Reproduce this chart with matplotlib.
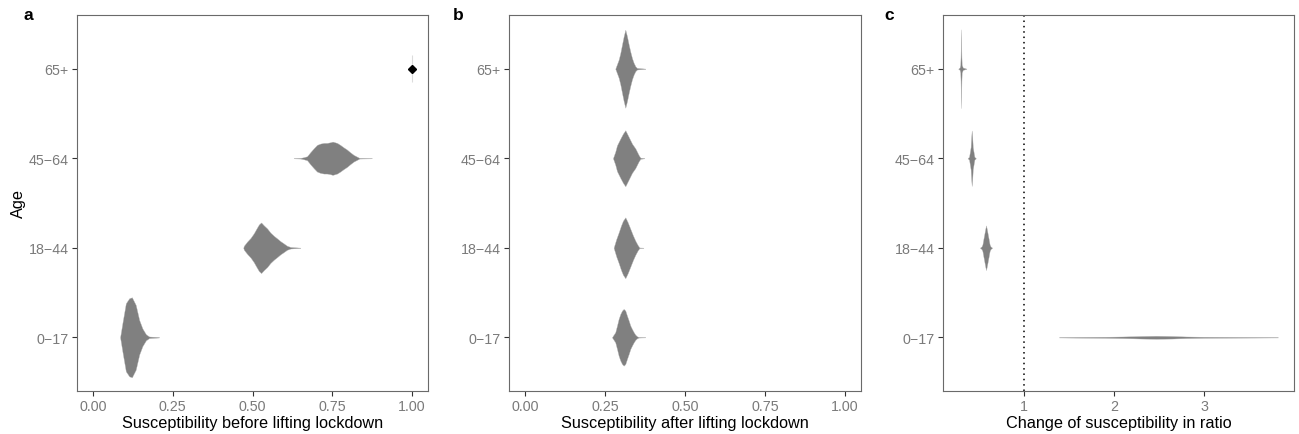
import matplotlib
matplotlib.use("Agg")
import matplotlib.pyplot as plt
import numpy as np

plt.rcParams['font.family'] = ['Liberation Sans', 'DejaVu Sans']

ages = ["0\u221217", "18\u221244", "45\u221264", "65+"]

# ---- Panel a: susceptibility before lifting lockdown (violin outlines)
a_017_x = [0.085, 0.093, 0.103, 0.1135, 0.122, 0.134, 0.145, 0.155, 0.166, 0.176, 0.207]
a_017_d = [0.0, 0.39, 0.85, 0.975, 1.0, 0.81, 0.43, 0.22, 0.075, 0.02, 0.005]
a_1844_x = [0.471, 0.473, 0.483, 0.494, 0.504, 0.5125, 0.52, 0.527, 0.535, 0.546, 0.556,
            0.567, 0.577, 0.5875, 0.598, 0.608, 0.619, 0.65]
a_1844_d = [0.0, 0.08, 0.24, 0.39, 0.57, 0.76, 0.92, 1.0, 0.89, 0.76, 0.6,
            0.47, 0.37, 0.26, 0.17, 0.08, 0.03, 0.005]
a_4564_x = [0.629, 0.65, 0.66, 0.671, 0.681, 0.692, 0.702, 0.7125, 0.723, 0.733, 0.744,
            0.751, 0.765, 0.775, 0.785, 0.796, 0.806, 0.817, 0.827, 0.835, 0.874]
a_4564_d = [0.005, 0.02, 0.06, 0.12, 0.36, 0.6, 0.8, 0.88, 0.92, 0.92, 0.96,
            1.0, 0.92, 0.8, 0.66, 0.52, 0.36, 0.2, 0.1, 0.02, 0.005]
a_65_value = 1.0
a_peaks = [0.447, 0.283, 0.186]

# ---- Panel b: susceptibility after lifting lockdown
b_017_x = [0.2717, 0.2821, 0.2874, 0.2926, 0.2978, 0.3031, 0.3083, 0.3135, 0.3187, 0.324,
           0.3292, 0.3344, 0.3396, 0.3448, 0.35, 0.3553, 0.376]
b_017_d = [0.0, 0.18, 0.41, 0.65, 0.82, 0.94, 1.0, 0.94, 0.76, 0.59,
           0.41, 0.29, 0.18, 0.09, 0.035, 0.01, 0.003]
b_1844_x = [0.2769, 0.2853, 0.2926, 0.30, 0.3062, 0.3135, 0.3208, 0.3292, 0.3375, 0.3448,
            0.352, 0.3574, 0.37]
b_1844_d = [0.0, 0.29, 0.5, 0.73, 0.89, 1.0, 0.84, 0.62, 0.4, 0.23, 0.09, 0.01, 0.003]
b_4564_x = [0.2748, 0.282, 0.2874, 0.2978, 0.3062, 0.3135, 0.324, 0.3344, 0.3448, 0.3553,
            0.3605, 0.373]
b_4564_d = [0.0, 0.23, 0.46, 0.7, 0.88, 1.0, 0.76, 0.52, 0.35, 0.11, 0.02, 0.003]
b_65_x = [0.2821, 0.2926, 0.2978, 0.3031, 0.3083, 0.3135, 0.3187, 0.324, 0.329, 0.3344,
          0.3396, 0.345, 0.35, 0.376]
b_65_d = [0.0, 0.23, 0.4, 0.62, 0.83, 1.0, 0.83, 0.62, 0.44, 0.27, 0.15, 0.06, 0.02, 0.003]
b_peaks = [0.317, 0.34, 0.313, 0.436]

# ---- Panel c: change of susceptibility in ratio
c_017_x = [1.39, 1.6, 1.9, 2.1, 2.3, 2.47, 2.65, 2.8, 3.0, 3.4, 3.82]
c_017_d = [0.12, 0.24, 0.35, 0.53, 0.82, 1.0, 0.82, 0.53, 0.35, 0.24, 0.12]
c_1844_x = [0.511, 0.528, 0.538, 0.550, 0.563, 0.570, 0.578, 0.586, 0.593, 0.606, 0.618,
            0.628, 0.645]
c_1844_d = [0.005, 0.06, 0.15, 0.42, 0.7, 0.85, 1.0, 0.85, 0.7, 0.42, 0.15, 0.06, 0.005]
c_4564_x = [0.374, 0.389, 0.397, 0.407, 0.413, 0.419, 0.425, 0.431, 0.441, 0.449, 0.464]
c_4564_d = [0.005, 0.05, 0.2, 0.4, 0.75, 1.0, 0.75, 0.4, 0.2, 0.05, 0.005]
c_65_x = [0.27, 0.285, 0.292, 0.295, 0.297, 0.300, 0.303, 0.305, 0.308, 0.32, 0.36]
c_65_d = [0.003, 0.03, 0.1, 0.3, 0.56, 1.0, 0.56, 0.3, 0.1, 0.03, 0.003]
c_peaks = [0.017, 0.25, 0.31, 0.44]
c_ref_line = 1.0

violin_color = "#808080"
tick_color = "#7a7a7a"
frame_color = "#6a6a6a"

W, H = 1299, 435
fig = plt.figure(figsize=(W / 100, H / 100), dpi=100)

def make_ax(left, right, top=16, bottom=392):
    return fig.add_axes([left / W, (H - bottom) / H, (right - left) / W, (bottom - top) / H])

ax_a = make_ax(77, 428)
ax_b = make_ax(509, 861)
ax_c = make_ax(943, 1294)

def violin(ax, xs, ds, peak, ypos):
    xs = np.asarray(xs, float)
    ds = np.asarray(ds, float) * peak
    ax.fill_between(xs, ypos - ds, ypos + ds, color=violin_color, linewidth=0.25,
                    edgecolor="#b5b5b5", zorder=2)

def style(ax, xlabel, xlim, xticks, xticklabels):
    ax.set_ylim(-0.6, 3.6)
    ax.set_xlim(*xlim)
    ax.set_yticks(range(4))
    ax.set_yticklabels(ages)
    ax.set_xticks(xticks)
    ax.set_xticklabels(xticklabels)
    ax.tick_params(axis="both", which="both", length=3.5, width=0.8, color="#333333",
                   labelcolor=tick_color, labelsize=10.3, pad=2.5, direction="out")
    for s in ax.spines.values():
        s.set_color(frame_color)
        s.set_linewidth(0.8)
    ax.set_xlabel(xlabel, fontsize=11.7, color="black", labelpad=1.5)
    ax.grid(False)

# Panel a
violin(ax_a, a_017_x, a_017_d, a_peaks[0], 0)
violin(ax_a, a_1844_x, a_1844_d, a_peaks[1], 1)
violin(ax_a, a_4564_x, a_4564_d, a_peaks[2], 2)
ax_a.vlines([a_65_value], 3 - 0.15, 3 + 0.15, color="#dcdcdc", linewidth=0.8, zorder=2)
ax_a.plot([a_65_value], [3], marker="D", markersize=4, color="black", linestyle="none", zorder=3)
style(ax_a, "Susceptibility before lifting lockdown", (-0.05, 1.05),
      [0, 0.25, 0.5, 0.75, 1.0], ["0.00", "0.25", "0.50", "0.75", "1.00"])
ax_a.set_ylabel("Age", fontsize=11.7, labelpad=2)

# Panel b
violin(ax_b, b_017_x, b_017_d, b_peaks[0], 0)
violin(ax_b, b_1844_x, b_1844_d, b_peaks[1], 1)
violin(ax_b, b_4564_x, b_4564_d, b_peaks[2], 2)
violin(ax_b, b_65_x, b_65_d, b_peaks[3], 3)
style(ax_b, "Susceptibility after lifting lockdown", (-0.05, 1.05),
      [0, 0.25, 0.5, 0.75, 1.0], ["0.00", "0.25", "0.50", "0.75", "1.00"])

# Panel c
violin(ax_c, c_017_x, c_017_d, c_peaks[0], 0)
violin(ax_c, c_1844_x, c_1844_d, c_peaks[1], 1)
violin(ax_c, c_4564_x, c_4564_d, c_peaks[2], 2)
violin(ax_c, c_65_x, c_65_d, c_peaks[3], 3)
ax_c.axvline(c_ref_line, color="black", linestyle=(0, (1, 2.5)), linewidth=1.1, zorder=1)
style(ax_c, "Change of susceptibility in ratio", (0.1, 4.0), [1, 2, 3], ["1", "2", "3"])

for lbl, xp in (("a", 23), ("b", 453), ("c", 884)):
    fig.text(xp / W, 1 - 15 / H, lbl, fontsize=12.5, fontweight="bold", ha="left", va="center")

fig.savefig("out.png", dpi=100)
